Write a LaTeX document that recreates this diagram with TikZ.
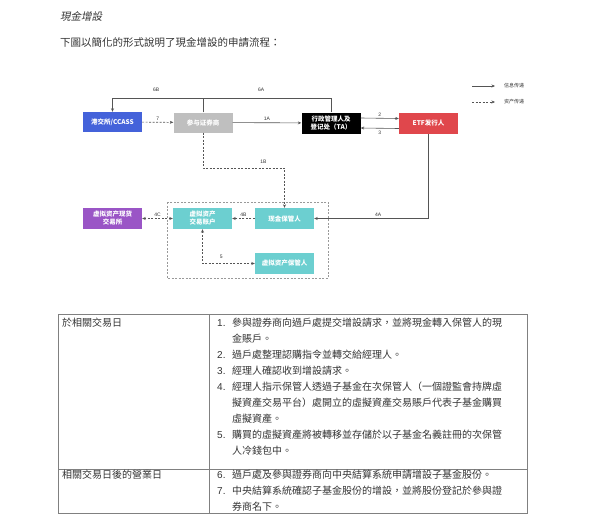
\documentclass[tikz,border=0pt]{standalone}
\usepackage{fontspec}
\usepackage{tikz}
\usetikzlibrary{arrows.meta}

\newfontfamily\tcfont{Noto Sans CJK TC}
\newfontfamily\tcslant{Noto Sans CJK TC}[FakeSlant=0.2]
\newfontfamily\scfont{Noto Sans CJK SC}
\newfontfamily\numfont{Liberation Sans}

\definecolor{hkexblue}{HTML}{4462DA}
\definecolor{brokergray}{HTML}{BFBFBF}
\definecolor{etfred}{HTML}{E0474C}
\definecolor{vapurple}{HTML}{9A55C6}
\definecolor{custteal}{HTML}{6CCFD0}
\definecolor{linegray}{HTML}{555555}
\definecolor{textgray}{HTML}{333333}

\tikzset{
  box/.style={minimum width=59pt, minimum height=20pt, inner sep=0pt, align=center,
    text=white, font=\scfont\bfseries\fontsize{6.5}{8}\selectfont},
  msg/.style={draw=linegray, line width=0.6pt, -{Stealth[length=3.5pt,width=3pt]}},
  asset/.style={msg, dash pattern=on 2pt off 1.5pt},
  steplabel/.style={font=\numfont\fontsize{5}{6}\selectfont, text=textgray, inner sep=1.5pt},
  legendtext/.style={anchor=west, inner sep=0pt, font=\scfont\fontsize{5}{6}\selectfont, text=textgray},
  cell/.style={anchor=west, inner sep=0pt, font=\tcfont\fontsize{10}{15.8}\selectfont, text=textgray},
  itemtext/.style={cell, anchor=north west, align=left},
  itemno/.style={cell, font=\numfont\fontsize{10}{12}\selectfont}
}

\begin{document}
\begin{tikzpicture}[x=1pt, y=-1pt]

  \useasboundingbox (0,0) rectangle (600,527);

  % heading
  \node[anchor=west, inner sep=0pt, text=textgray, font=\tcslant\fontsize{10.5}{12}\selectfont] (title) at (60,16) {現金增設};
  \node[anchor=west, inner sep=0pt, text=textgray, font=\tcfont\fontsize{10.5}{12}\selectfont] (intro) at (60,43) {下圖以簡化的形式說明了現金增設的申請流程：};

  % legend
  \coordinate (legmsgA) at (472,86);
  \coordinate (legmsgB) at (495,86);
  \coordinate (legassetA) at (472,102);
  \coordinate (legassetB) at (495,102);
  \draw[msg] (legmsgA) -- (legmsgB);
  \draw[asset] (legassetA) -- (legassetB);
  \node[legendtext] (legmsg) at (504,86) {信息传递};
  \node[legendtext] (legasset) at (504,102) {资产传递};

  % top row
  \node[box, fill=hkexblue] (ccass) at (112.5,122) {港交所/CCASS};
  \node[box, fill=brokergray] (broker) at (203,122.5) {参与证券商};
  \node[box, fill=black, minimum height=21pt] (ta) at (331,123) {行政管理人及\\登记处（TA）};
  \node[box, fill=etfred, minimum height=21pt] (etf) at (428.5,123.5) {ETF发行人};

  % lower row
  \draw[dash pattern=on 2pt off 1.5pt, draw=gray!80, line width=0.5pt] (167,202) rectangle (328,278);
  \node[box, fill=vapurple, minimum height=21pt] (vaexch) at (112.5,218.5) {虚拟资产现货\\交易所};
  \node[box, fill=custteal, minimum height=21pt] (vaacct) at (202.5,218.5) {虚拟资产\\交易账户};
  \node[box, fill=custteal, minimum height=21pt] (cashcust) at (284.5,218.5) {现金保管人};
  \node[box, fill=custteal, minimum height=21pt] (vacust) at (284.5,263.5) {虚拟资产保管人};

  % connectors
  \coordinate (top6) at (112.5,98);
  \coordinate (bend1b) at (284.5,168);
  \draw[msg] (ta.north) |- node[steplabel, pos=0.66, above=5pt] {6A}
                              node[steplabel, pos=0.9, above=5pt] {6B} (top6) -- (ccass.north);
  \draw[msg, -] (broker.north) -- (broker.north |- top6);
  \draw[asset] (ccass) -- node[steplabel, above] {7} (broker);
  \draw[msg] (broker) -- node[steplabel, above] {1A} (ta);
  \draw[msg] ([yshift=5pt]ta.east) -- node[steplabel, above] {2} ([yshift=5pt]etf.west);
  \draw[msg] ([yshift=-5pt]etf.west) -- node[steplabel, below=1pt] {3} ([yshift=-5pt]ta.east);
  \draw[asset] (broker.south) |- node[steplabel, pos=0.87, above=3pt] {1B} (bend1b) -- (cashcust.north);
  \draw[msg] (etf.south) |- node[steplabel, pos=0.72, above] {4A} (cashcust.east);
  \draw[asset] (cashcust) -- node[steplabel, above] {4B} (vaacct);
  \draw[asset, {Stealth[length=3.5pt,width=3pt]}-{Stealth[length=3.5pt,width=3pt]}] (vaexch) -- node[steplabel, above] {4C} (vaacct);
  \draw[asset, {Stealth[length=3.5pt,width=3pt]}-{Stealth[length=3.5pt,width=3pt]}] (vaacct.south) |- node[steplabel, pos=0.68, above=3pt] {5} (vacust.west);

  % table
  \draw[draw=gray, line width=0.8pt] (58,314) rectangle (527,513);
  \draw[draw=gray, line width=0.8pt] (209,314) -- (209,513);
  \draw[draw=gray, line width=0.8pt] (58,469) -- (527,469);

  \node[cell] (day1) at (62,323) {於相關交易日};
  \node[cell] (day2) at (62,475) {相關交易日後的營業日};

  \node[itemno] (n1) at (217,323) {1.};
  \node[itemno] (n2) at (217,355) {2.};
  \node[itemno] (n3) at (217,371) {3.};
  \node[itemno] (n4) at (217,387) {4.};
  \node[itemno] (n5) at (217,435) {5.};
  \node[itemno] (n6) at (217,475) {6.};
  \node[itemno] (n7) at (217,491) {7.};

  \node[itemtext] (s1) at (232,318) {參與證券商向過戶處提交增設請求，並將現金轉入保管人的現\\金賬戶。};
  \node[itemtext] (s2) at (232,350) {過戶處整理認購指令並轉交給經理人。};
  \node[itemtext] (s3) at (232,366) {經理人確認收到增設請求。};
  \node[itemtext] (s4) at (232,382) {經理人指示保管人透過子基金在次保管人（一個證監會持牌虛\\擬資產交易平台）處開立的虛擬資產交易賬戶代表子基金購買\\虛擬資產。};
  \node[itemtext] (s5) at (232,430) {購買的虛擬資產將被轉移並存儲於以子基金名義註冊的次保管\\人冷錢包中。};
  \node[itemtext] (s6) at (232,470) {過戶處及參與證券商向中央結算系統申請增設子基金股份。};
  \node[itemtext] (s7) at (232,486) {中央結算系統確認子基金股份的增設，並將股份登記於參與證\\券商名下。};

\end{tikzpicture}
\end{document}
